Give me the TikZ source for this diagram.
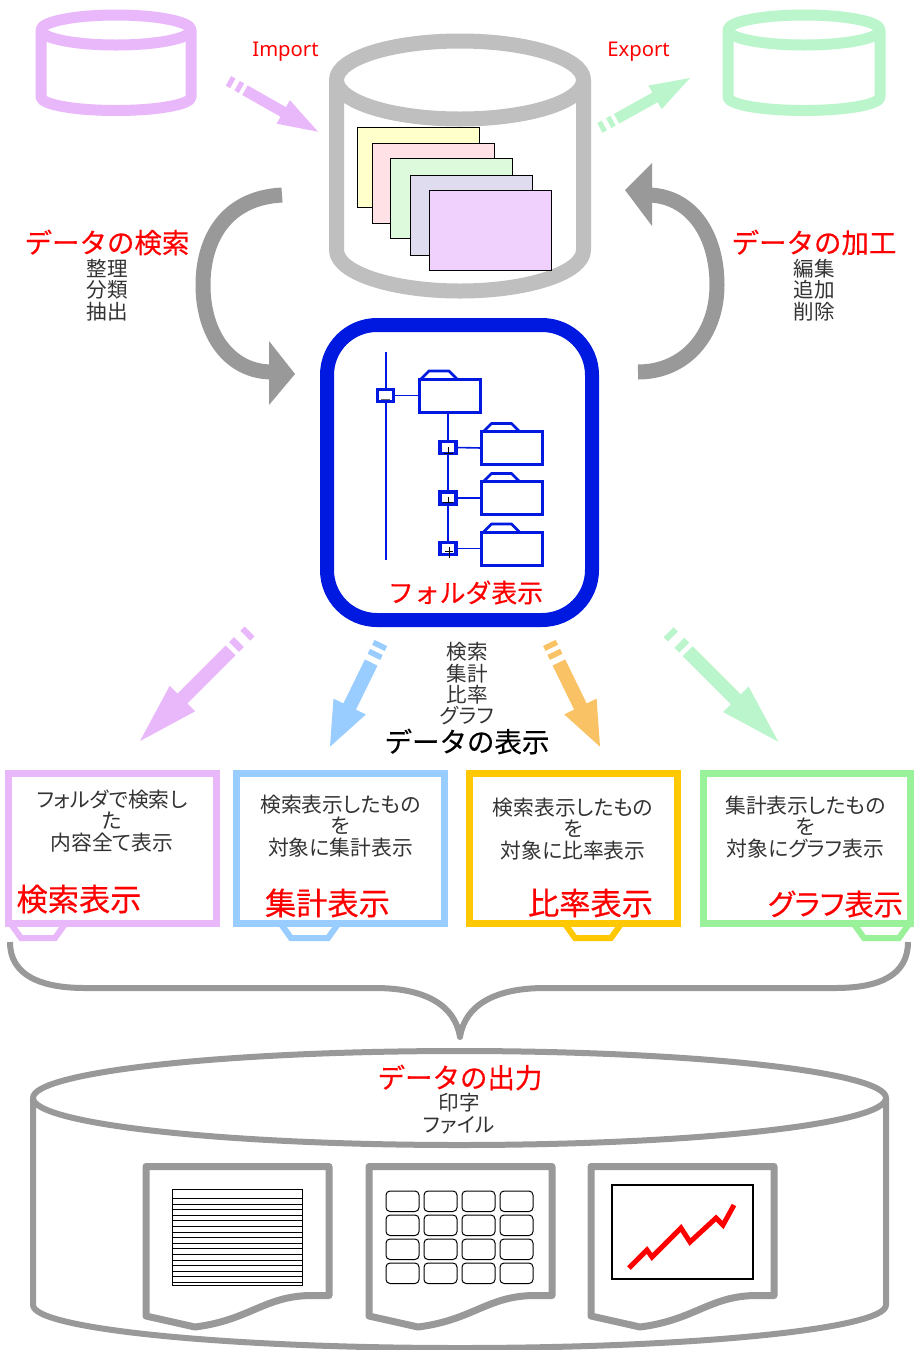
\documentclass[tikz,border=0pt]{standalone}
\usepackage{fontspec}
\setmainfont{Noto Sans}
\newfontfamily\jp{Noto Sans CJK JP}
\newfontfamily\jpb[FakeBold=0.35]{Noto Sans CJK JP}
\newfontfamily\jpp[RawFeature=+palt]{Noto Sans CJK JP}
\newfontfamily\jpq[RawFeature=+palt,FakeBold=0.35]{Noto Sans CJK JP}
\def\px{0.75pt}
\definecolor{cpink}{HTML}{E9B8FB}
\definecolor{cblue}{HTML}{99CCFF}
\definecolor{cgold}{HTML}{FFC800}
\definecolor{corange}{HTML}{F9C264}
\definecolor{cgreen}{HTML}{99F299}
\definecolor{clight}{HTML}{BBF5CB}
\definecolor{cgray}{HTML}{999999}
\definecolor{cgray2}{HTML}{BFBFBF}
\definecolor{cnavy}{HTML}{0019E0}
\definecolor{sa}{HTML}{FFFFCC}
\definecolor{sb}{HTML}{FFE1E6}
\definecolor{sc}{HTML}{DDFADD}
\definecolor{sd}{HTML}{E0DCF0}
\definecolor{se}{HTML}{F0D0FC}
\tikzset{
  x=0.75pt,y=-0.75pt,
  title/.style={text=red,inner sep=0,font=\jpb\fontsize{20.6pt}{22pt}\selectfont},
  bigtitle/.style={text=red,inner sep=0,font=\jpq\fontsize{23.4pt}{25pt}\selectfont},
  small/.style={text=black!80,inner sep=0,align=center,font=\jp\fontsize{15.4pt}{16pt}\selectfont},
  smallp/.style={text=black!80,inner sep=0,align=center,font=\jpp\fontsize{15.4pt}{16pt}\selectfont},
  boxtext/.style={text=black!80,inner sep=0,align=center,font=\jpp\fontsize{15.6pt}{16pt}\selectfont},
  latin/.style={text=red,inner sep=0,font=\fontsize{15.2pt}{17pt}\selectfont},
  sheet/.style={draw=black,line width=1*\px,inner sep=0,outer sep=0,minimum width=122*\px,minimum height=80*\px,anchor=north west},
  folderbody/.style={draw=cnavy,line width=3*\px,fill=white,inner sep=0,outer sep=0,minimum width=61*\px,minimum height=33*\px},
  treebox/.style={draw=cnavy,line width=3.2*\px,fill=white,inner sep=0,outer sep=0,minimum width=16*\px,minimum height=12*\px},
  treeline/.style={draw=cnavy,line width=1.6*\px},
  tabline/.style={draw=cnavy,line width=2.8*\px,line join=round},
  frame/.style={line width=7*\px,line join=miter},
  doc/.style={draw=cgray,line width=7*\px,line join=round},
  cell/.style={draw=black,line width=1*\px,rounded corners=4*\px},
  bendarrow/.style={draw=cgray,line width=15*\px},
}
\newcommand\cyl[8]{%
  \pgfmathsetmacro\xc{(#3+#4)/2}\pgfmathsetmacro\kx{.5523*(#4-#3)/2}
  \draw[#1,line width=#2*\px,line join=round]
    (#3,#5) .. controls ({#3},{#5-.5523*#6}) and ({\xc-\kx},{#5-#6}) .. (\xc,{#5-#6})
    .. controls ({\xc+\kx},{#5-#6}) and ({#4},{#5-.5523*#6}) .. (#4,#5)
    .. controls ({#4},{#5+.5523*#6}) and ({\xc+\kx},{#5+#6}) .. (\xc,{#5+#6})
    .. controls ({\xc-\kx},{#5+#6}) and ({#3},{#5+.5523*#6}) .. (#3,#5)
    -- (#3,#7)
    .. controls ({#3},{#7+.5523*#8}) and ({\xc-\kx},{#7+#8}) .. (\xc,{#7+#8})
    .. controls ({\xc+\kx},{#7+#8}) and ({#4},{#7+.5523*#8}) .. (#4,#7)
    -- (#4,#5);}
\newcommand\barrow[8]{%
  \begin{scope}[shift={#2},rotate=#3]
    \fill[#1] (0,0) -- (-#4,-#5) -- (-#4,-#6) -- (-#7,-#6) -- (-#7,#6) -- (-#4,#6) -- (-#4,#5) -- cycle;
    \foreach \a/\b in {#8}{\fill[#1] (-\a,-#6) rectangle (-\b,#6);}
  \end{scope}}
\newcommand\outbox[7]{% color x1 x2 y1 y2 tabx1 tabx2
  \draw[#1,frame] (#2,#4) rectangle (#3,#5);
  \draw[#1,line width=6*\px,line join=miter] (#6,924) -- ({#6+10},938) -- ({#7-10},938) -- (#7,924);}
\newcommand\folder[2]{% name, position
  \node[folderbody] (#1) at #2 {};
  \draw[tabline] ([xshift=2*\px]#1.north west) -- ([xshift=10*\px,yshift=8*\px]#1.north west) -- ([xshift=30*\px,yshift=8*\px]#1.north west) -- ([xshift=38*\px]#1.north west);}
\newcommand\page[1]{%
  \begin{scope}[xshift=#1*\px]
    \draw[doc] (146,1166.5) -- (329,1166.5) -- (329,1295.5) -- (312,1295.5)
      .. controls (265,1295.5) and (250,1320) .. (195,1327) -- (146,1316) -- cycle;
  \end{scope}}
\begin{document}
\begin{tikzpicture}
\useasboundingbox[fill=white] (0,0) rectangle (914,1350);
% cylinders
\cyl{draw=cpink}{11}{41}{191}{30}{15}{97}{13.5}
\cyl{draw=clight}{11}{728}{880}{30}{15}{97}{13.5}
\cyl{draw=cgray2}{15}{336.5}{583.5}{80}{39}{250}{41}
% sheets
\node[sheet,fill=sa] (s1) at (357,127) {};
\node[sheet,fill=sb] (s2) at (372,143) {};
\node[sheet,fill=sc] (s3) at (390.5,158.5) {};
\node[sheet,fill=sd] (s4) at (410,175) {};
\node[sheet,fill=se] (s5) at (429,190) {};
% top arrows
\barrow{cpink}{(318,131.7)}{-29.6}{40}{13.5}{5.5}{84}{88/93,98/103}
\barrow{clight}{(690,78)}{29}{40}{13.5}{5.5}{84}{88/93,98/103}
\node[latin] (imp) at (285.5,52) {Import};
\node[latin] (exp) at (638.5,52) {Export};
% curved arrows
\draw[bendarrow] (282,195) .. controls (225,198) and (203,240) .. (203,285) .. controls (203,335) and (230,372) .. (272,372);
\fill[cgray] (269,341) -- (295,374) -- (269,405) -- cycle;
\draw[bendarrow] (638,372) .. controls (685,372) and (717,335) .. (717,285) .. controls (717,235) and (692,197) .. (650,195);
\fill[cgray] (652,163) -- (625,190) -- (652,226) -- cycle;
\node[title] (tL) at (107,242.5) {データの検索};
\node[small] (sL) at (107,290) {整理\\分類\\抽出};
\node[title] (tR) at (814,242.5) {データの加工};
\node[small] (sR) at (814,290) {編集\\追加\\削除};
% folder panel
\draw[cnavy,line width=14*\px,rounded corners=50*\px] (327,325) rectangle (592,620);
\folder{f0}{(449.5,395.5)}
\folder{f1}{(512,448)}
\folder{f2}{(512,498)}
\folder{f3}{(512,548.5)}
\coordinate (t0) at (385.7,352);
\coordinate (t1) at (385.7,560);
\node[treebox] (b0) at (385.7,395.5) {};
\node[treebox] (b1) at (448,447.5) {};
\node[treebox] (b2) at (448,498) {};
\node[treebox] (b3) at (448,548.5) {};
\draw[treeline] (t0) -- (b0.north);
\draw[treeline] (b0.south) -- (t1);
\draw[treeline] (b0.east) -- (f0.west);
\draw[treeline] (f0.south -| b1) -- (b1.north);
\draw[treeline] (b1.south) -- (b2.north);
\draw[treeline] (b2.south) -- (b3.north);
\draw[treeline] (b1.east) -- (f1.west);
\draw[treeline] (b2.east) -- (f2.west);
\draw[treeline] (b3.east) -- (f3.west);
\draw[black!60,line width=1*\px] (381,399) -- (390,399);
\draw[black,line width=1*\px] (448.5,447) -- (448.5,453.5) (444,453) -- (453,453);
\draw[black,line width=1*\px] (448,497) -- (448,502) (443,502.5) -- (453,502.5);
\draw[black,line width=1*\px] (449,547) -- (449,558) (445,551) -- (453,551);
\node[title,font=\jpb\fontsize{19.4pt}{22pt}\selectfont] (tF) at (465.5,592.5) {フォルダ表示};
% lower arrows
\barrow{cpink}{(140,741)}{225}{60}{18}{7}{128}{133/140,149/155}
\barrow{cblue}{(330,746.7)}{243.9}{44.7}{18}{7}{93.7}{100/105.5,110/115.5}
\barrow{corange}{(600,746.7)}{296}{44.7}{18}{7}{93.7}{100/105.5,110/115.5}
\barrow{clight}{(778.3,741.7)}{315}{60}{18}{7}{128}{133/140,149/155}
\node[smallp] (sD) at (467,684) {検索\\集計\\比率\\グラフ};
\node[title,text=black] (tD) at (467,741.5) {データの表示};
% view boxes
\outbox{cpink}{8.5}{216.5}{773.5}{923}{11}{65}
\outbox{cblue}{236.5}{444.5}{773.5}{923}{281}{338}
\outbox{cgold}{469}{677}{773.5}{923}{565}{621}
\outbox{cgreen}{703}{910.5}{773.5}{923}{854}{909}
\node[boxtext] (p1) at (112,821) {フォルダで検索し\\た\\内容全て表示};
\node[boxtext] (p2) at (340.5,826) {検索表示したもの\\を\\対象に集計表示};
\node[boxtext] (p3) at (573,829) {検索表示したもの\\を\\対象に比率表示};
\node[boxtext] (p4) at (805.5,827) {集計表示したもの\\を\\対象にグラフ表示};
\node[bigtitle] (l1) at (79,899) {検索表示};
\node[bigtitle] (l2) at (327.5,903) {集計表示};
\node[bigtitle] (l3) at (590.5,903) {比率表示};
\node[bigtitle,font=\jpq\fontsize{22pt}{25pt}\selectfont] (l4) at (835.5,904) {グラフ表示};
% brace
\draw[cgray,line width=6*\px,line join=round] (10,942) .. controls (10,975) and (40,988) .. (85,988) -- (375,988)
  .. controls (425,988) and (455,1005) .. (460,1037)
  .. controls (465,1005) and (495,988) .. (545,988) -- (835,988)
  .. controls (880,988) and (908,975) .. (908,942);
% output cylinder
\cyl{draw=cgray,fill=none}{6}{33}{886}{1098}{47}{1305}{43}
\node[title] (tO) at (460,1077.5) {データの出力};
\node[smallp] (sO) at (459,1113.5) {印字\\ファイル};
% pages
\page{0}\page{223}\page{445}
% table
\draw[black,line width=1*\px] (172,1189) rectangle (302,1285);
\foreach \i in {0,...,15}{\draw[black,line width=.8*\px] (172,{1198.3+\i*5.6}) -- (302,{1198.3+\i*5.6});}
% grid
\foreach \cx in {386,424,462,500}{\foreach \cy in {1191,1215,1239,1263}{
  \draw[cell] (\cx,\cy) rectangle ({\cx+33},{\cy+20.5});}}
% chart
\draw[black,line width=1.2*\px] (612,1185) rectangle (753,1279);
\draw[red,line width=5*\px] (629,1268) -- (647,1250) -- (652,1257) -- (681,1228) -- (690,1242) -- (716,1218) -- (723,1225) -- (734,1205);
\end{tikzpicture}
\end{document}
